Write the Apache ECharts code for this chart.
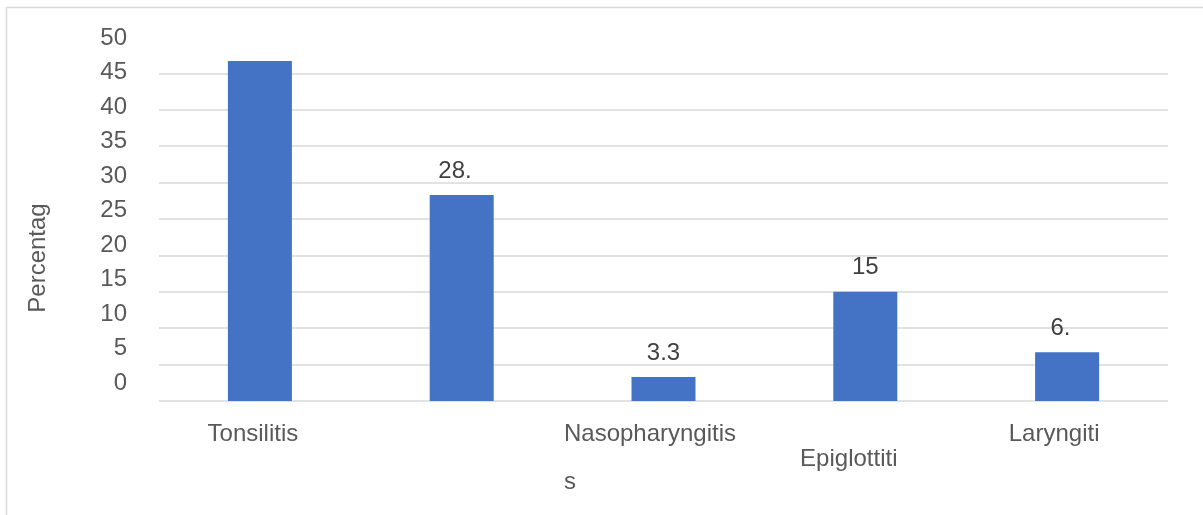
<!DOCTYPE html>
<html>
<head>
<meta charset="utf-8">
<title>Percentage by diagnosis</title>
<script src="https://cdn.jsdelivr.net/npm/echarts@6/dist/echarts.min.js"></script>
<style>
  html, body { margin: 0; padding: 0; background: #fff; }
  #chart { width: 1203px; height: 515px; }
</style>
</head>
<body>
<div id="chart"></div>
<script>
// Diagnosis categories and the text written under each bar
const categories = ['Tonsilitis', '', 'Nasopharyngitis', 'Epiglottitis', 'Laryngitis'];
const categoryLabels = ['Tonsilitis', '', 'Nasopharyngitis\ns', 'Epiglottiti', 'Laryngiti'];

// Percentage per diagnosis, and the part of each value printed above its bar
const percentages = [46.7, 28.3, 3.3, 15, 6.7];
const valueLabels = ['', '28.', '3.3', '15', '6.'];

// Value-axis range and step
const yMin = 0;
const yMax = 50;
const yStep = 5;

const FONT = "'Liberation Sans', Arial, sans-serif";
const GREY_TEXT = '#595959';
const GRID_GREY = '#d9d9d9';

// one colour per split line; the line at the top of the range is left out
const splitCount = (yMax - yMin) / yStep + 1;
const splitColors = [];
for (let i = 0; i < splitCount; i++) {
  splitColors.push(i === splitCount - 1 ? 'rgba(0,0,0,0)' : GRID_GREY);
}

// per-label text styles for the category axis
const catStyles = ['c0', 'c1', 'c2', 'c3', 'c4'];

const chart = echarts.init(document.getElementById('chart'), null, { renderer: 'canvas' });

chart.setOption({
  animation: false,
  backgroundColor: '#fff',
  textStyle: { fontFamily: FONT },
  graphic: [
    {
      type: 'rect',
      shape: { x: 6.5, y: 7.5, width: 1400, height: 700 },
      style: { fill: 'none', stroke: GRID_GREY, lineWidth: 1.5 },
      silent: true,
      z: -10
    },
    {
      type: 'text',
      x: 38,
      y: 258,
      rotation: Math.PI / 2,
      style: {
        text: 'Percentag',
        fontFamily: FONT,
        fontSize: 24,
        fill: GREY_TEXT,
        align: 'center',
        verticalAlign: 'middle'
      }
    }
  ],
  grid: [
    { left: 159, top: 37, width: 1009, height: 364, containLabel: false },
    { left: 135, top: 38, width: 10, height: 345, containLabel: false }
  ],
  xAxis: [
    {
      type: 'category',
      gridIndex: 0,
      data: categories,
      axisLine: { show: false },
      axisTick: { show: false },
      axisLabel: {
        interval: 0,
        margin: 9,
        color: GREY_TEXT,
        fontFamily: FONT,
        fontSize: 24,
        formatter: function (value, index) {
          const text = categoryLabels[index];
          if (!text) return '';
          const lines = text.split('\n');
          const st = catStyles[index];
          if (lines.length > 1) {
            return '{' + st + '|' + lines[0] + '}\n{' + st + 'b|' + lines[1] + '}';
          }
          return '{' + st + '|' + text + '}';
        },
        rich: {
          c0: { fontSize: 24, color: GREY_TEXT, lineHeight: 48, padding: [0, 14, 0, 0] },
          c1: { fontSize: 24, color: GREY_TEXT, lineHeight: 48 },
          c2: { fontSize: 24, color: GREY_TEXT, lineHeight: 48, padding: [0, 27, 0, 0] },
          c2b: { fontSize: 24, color: GREY_TEXT, lineHeight: 48, align: 'left' },
          c3: { fontSize: 24, color: GREY_TEXT, lineHeight: 48, padding: [50, 33, 0, 0] },
          c4: { fontSize: 24, color: GREY_TEXT, lineHeight: 48, padding: [0, 26, 0, 0] }
        }
      }
    },
    {
      type: 'value',
      gridIndex: 1,
      show: false
    }
  ],
  yAxis: [
    {
      type: 'value',
      gridIndex: 0,
      min: yMin,
      max: yMax,
      interval: yStep,
      axisLine: { show: false },
      axisTick: { show: false },
      axisLabel: { show: false },
      splitLine: { show: true, lineStyle: { color: splitColors, width: 1.5 } }
    },
    {
      type: 'value',
      gridIndex: 1,
      min: yMin,
      max: yMax,
      interval: yStep,
      axisLine: { show: false },
      axisTick: { show: false },
      splitLine: { show: false },
      axisLabel: {
        margin: 8,
        color: GREY_TEXT,
        fontFamily: FONT,
        fontSize: 24
      }
    }
  ],
  series: [
    {
      type: 'bar',
      xAxisIndex: 0,
      yAxisIndex: 0,
      data: percentages,
      barWidth: 64,
      itemStyle: { color: '#4472c4' },
      label: {
        show: true,
        position: 'top',
        distance: 12,
        formatter: function (p) {
          const full = String(p.value);
          const shown = valueLabels[p.dataIndex];
          const rest = full.slice(shown.length);
          return '{v|' + shown + '}{h|' + rest + '}';
        },
        rich: {
          v: { fontSize: 24, lineHeight: 24, color: '#404040', fontFamily: FONT },
          h: { fontSize: 24, lineHeight: 24, color: 'rgba(0,0,0,0)', fontFamily: FONT }
        }
      }
    }
  ]
});
</script>
</body>
</html>
